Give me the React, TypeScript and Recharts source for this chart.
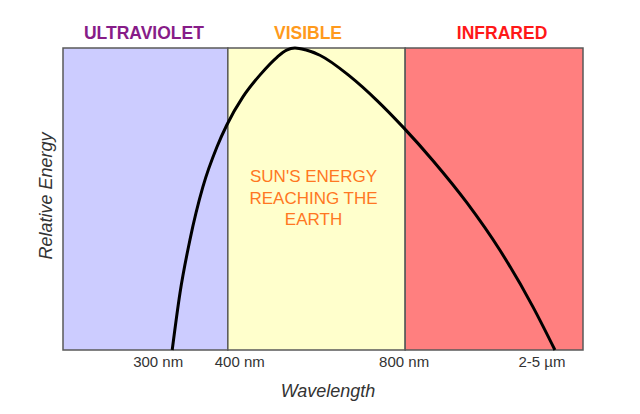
import { LineChart, Line, XAxis, YAxis, ReferenceArea, Label } from "recharts";

// spectral bands along the (relative) wavelength axis, 0-100
const bandNames = ["ULTRAVIOLET", "VISIBLE", "INFRARED"];
const bandStart = [0, 31.7, 65.8];
const bandEnd = [31.7, 65.8, 100];

// tick positions on the same relative axis and their labels
const tickPos = [18.3, 34.0, 65.6, 92.1];
const tickLabels = ["300 nm", "400 nm", "800 nm", "2-5 µm"];

// sun's energy curve
const wavePos = [21.0, 22.5, 24.4, 26.9, 29.6, 31.5, 34.6, 37.9, 41.2, 43.0, 44.6, 46.6, 49.4, 55.2, 60.4, 65.4, 71.2, 77.7, 84.0, 90.4, 94.6];
const energy = [0, 18.9, 36.4, 54.0, 67.2, 74.5, 83.8, 91.1, 97.0, 99.3, 100, 99.4, 97.6, 90.6, 82.6, 73.8, 62.6, 48.7, 33.1, 14.2, 0];

const centerText = ["SUN'S ENERGY", "REACHING THE", "EARTH"];

const bandFills = ["#ccccff", "#ffffcc", "#ff7f7f"];
const bandTextColors = ["#871c88", "#ff9a1c", "#ff1818"];
const bandLabelShift = [-1.5, -8.5, 8];

const FONT = "'Liberation Sans', Arial, Helvetica, sans-serif";

const data = wavePos.map((x, i) => ({ x, energy: energy[i] }));

function bandLabel(i: number) {
  return (props: any) => {
    const vb = props.viewBox || {};
    const cx = vb.x + vb.width / 2;
    return (
      <g>
        <text
          x={cx + bandLabelShift[i]}
          y={vb.y - 9}
          textAnchor="middle"
          fontFamily={FONT}
          fontWeight="bold"
          fontSize={17.5}
          fill={bandTextColors[i]}
        >
          {bandNames[i]}
        </text>
        {i === 1 &&
          centerText.map((line, k) => (
            <text
              key={line}
              x={cx - 3}
              y={vb.y + 134 + k * 21.5}
              textAnchor="middle"
              fontFamily={FONT}
              fontSize={17}
              fill="#ff7722"
            >
              {line}
            </text>
          ))}
      </g>
    );
  };
}

export default function App() {
  return (
    <div style={{ position: "absolute", left: 0, top: 0, background: "#fff" }}>
      <LineChart
        width={640}
        height={414}
        data={data}
        margin={{ top: 48, right: 57, left: 8, bottom: 0 }}
      >
        <XAxis
          type="number"
          dataKey="x"
          domain={[0, 100]}
          ticks={tickPos}
          interval={0}
          tickFormatter={(_v: number, i: number) => tickLabels[i]}
          axisLine={false}
          tickLine={false}
          tickSize={0}
          tickMargin={6}
          height={64}
          tick={{ fill: "#333", fontSize: 15, fontFamily: FONT }}
        >
          <Label
            content={(props: any) => {
              const vb = props.viewBox || {};
              return (
                <text
                  x={vb.x + vb.width / 2 + 5}
                  y={vb.y + 47}
                  textAnchor="middle"
                  fontFamily={FONT}
                  fontStyle="italic"
                  fontSize={18}
                  fill="#333"
                >
                  Wavelength
                </text>
              );
            }}
          />
        </XAxis>
        <YAxis
          type="number"
          domain={[0, 100]}
          width={55}
          tick={false}
          axisLine={false}
          tickLine={false}
        >
          <Label
            content={(props: any) => {
              const vb = props.viewBox || {};
              const x = vb.x + 44;
              const y = vb.y + vb.height / 2 - 3;
              return (
                <text
                  x={x}
                  y={y}
                  transform={`rotate(-90 ${x} ${y})`}
                  textAnchor="middle"
                  fontFamily={FONT}
                  fontStyle="italic"
                  fontSize={18}
                  fill="#333"
                >
                  Relative Energy
                </text>
              );
            }}
          />
        </YAxis>
        {bandNames.map((name, i) => (
          <ReferenceArea
            key={name}
            x1={bandStart[i]}
            x2={bandEnd[i]}
            y1={0}
            y2={100}
            fill={bandFills[i]}
            fillOpacity={1}
            stroke="#5a5a5a"
            strokeWidth={1.5}
            label={bandLabel(i)}
          />
        ))}
        <Line
          type="monotone"
          dataKey="energy"
          stroke="#000"
          strokeWidth={3}
          dot={false}
          isAnimationActive={false}
        />
      </LineChart>
    </div>
  );
}
